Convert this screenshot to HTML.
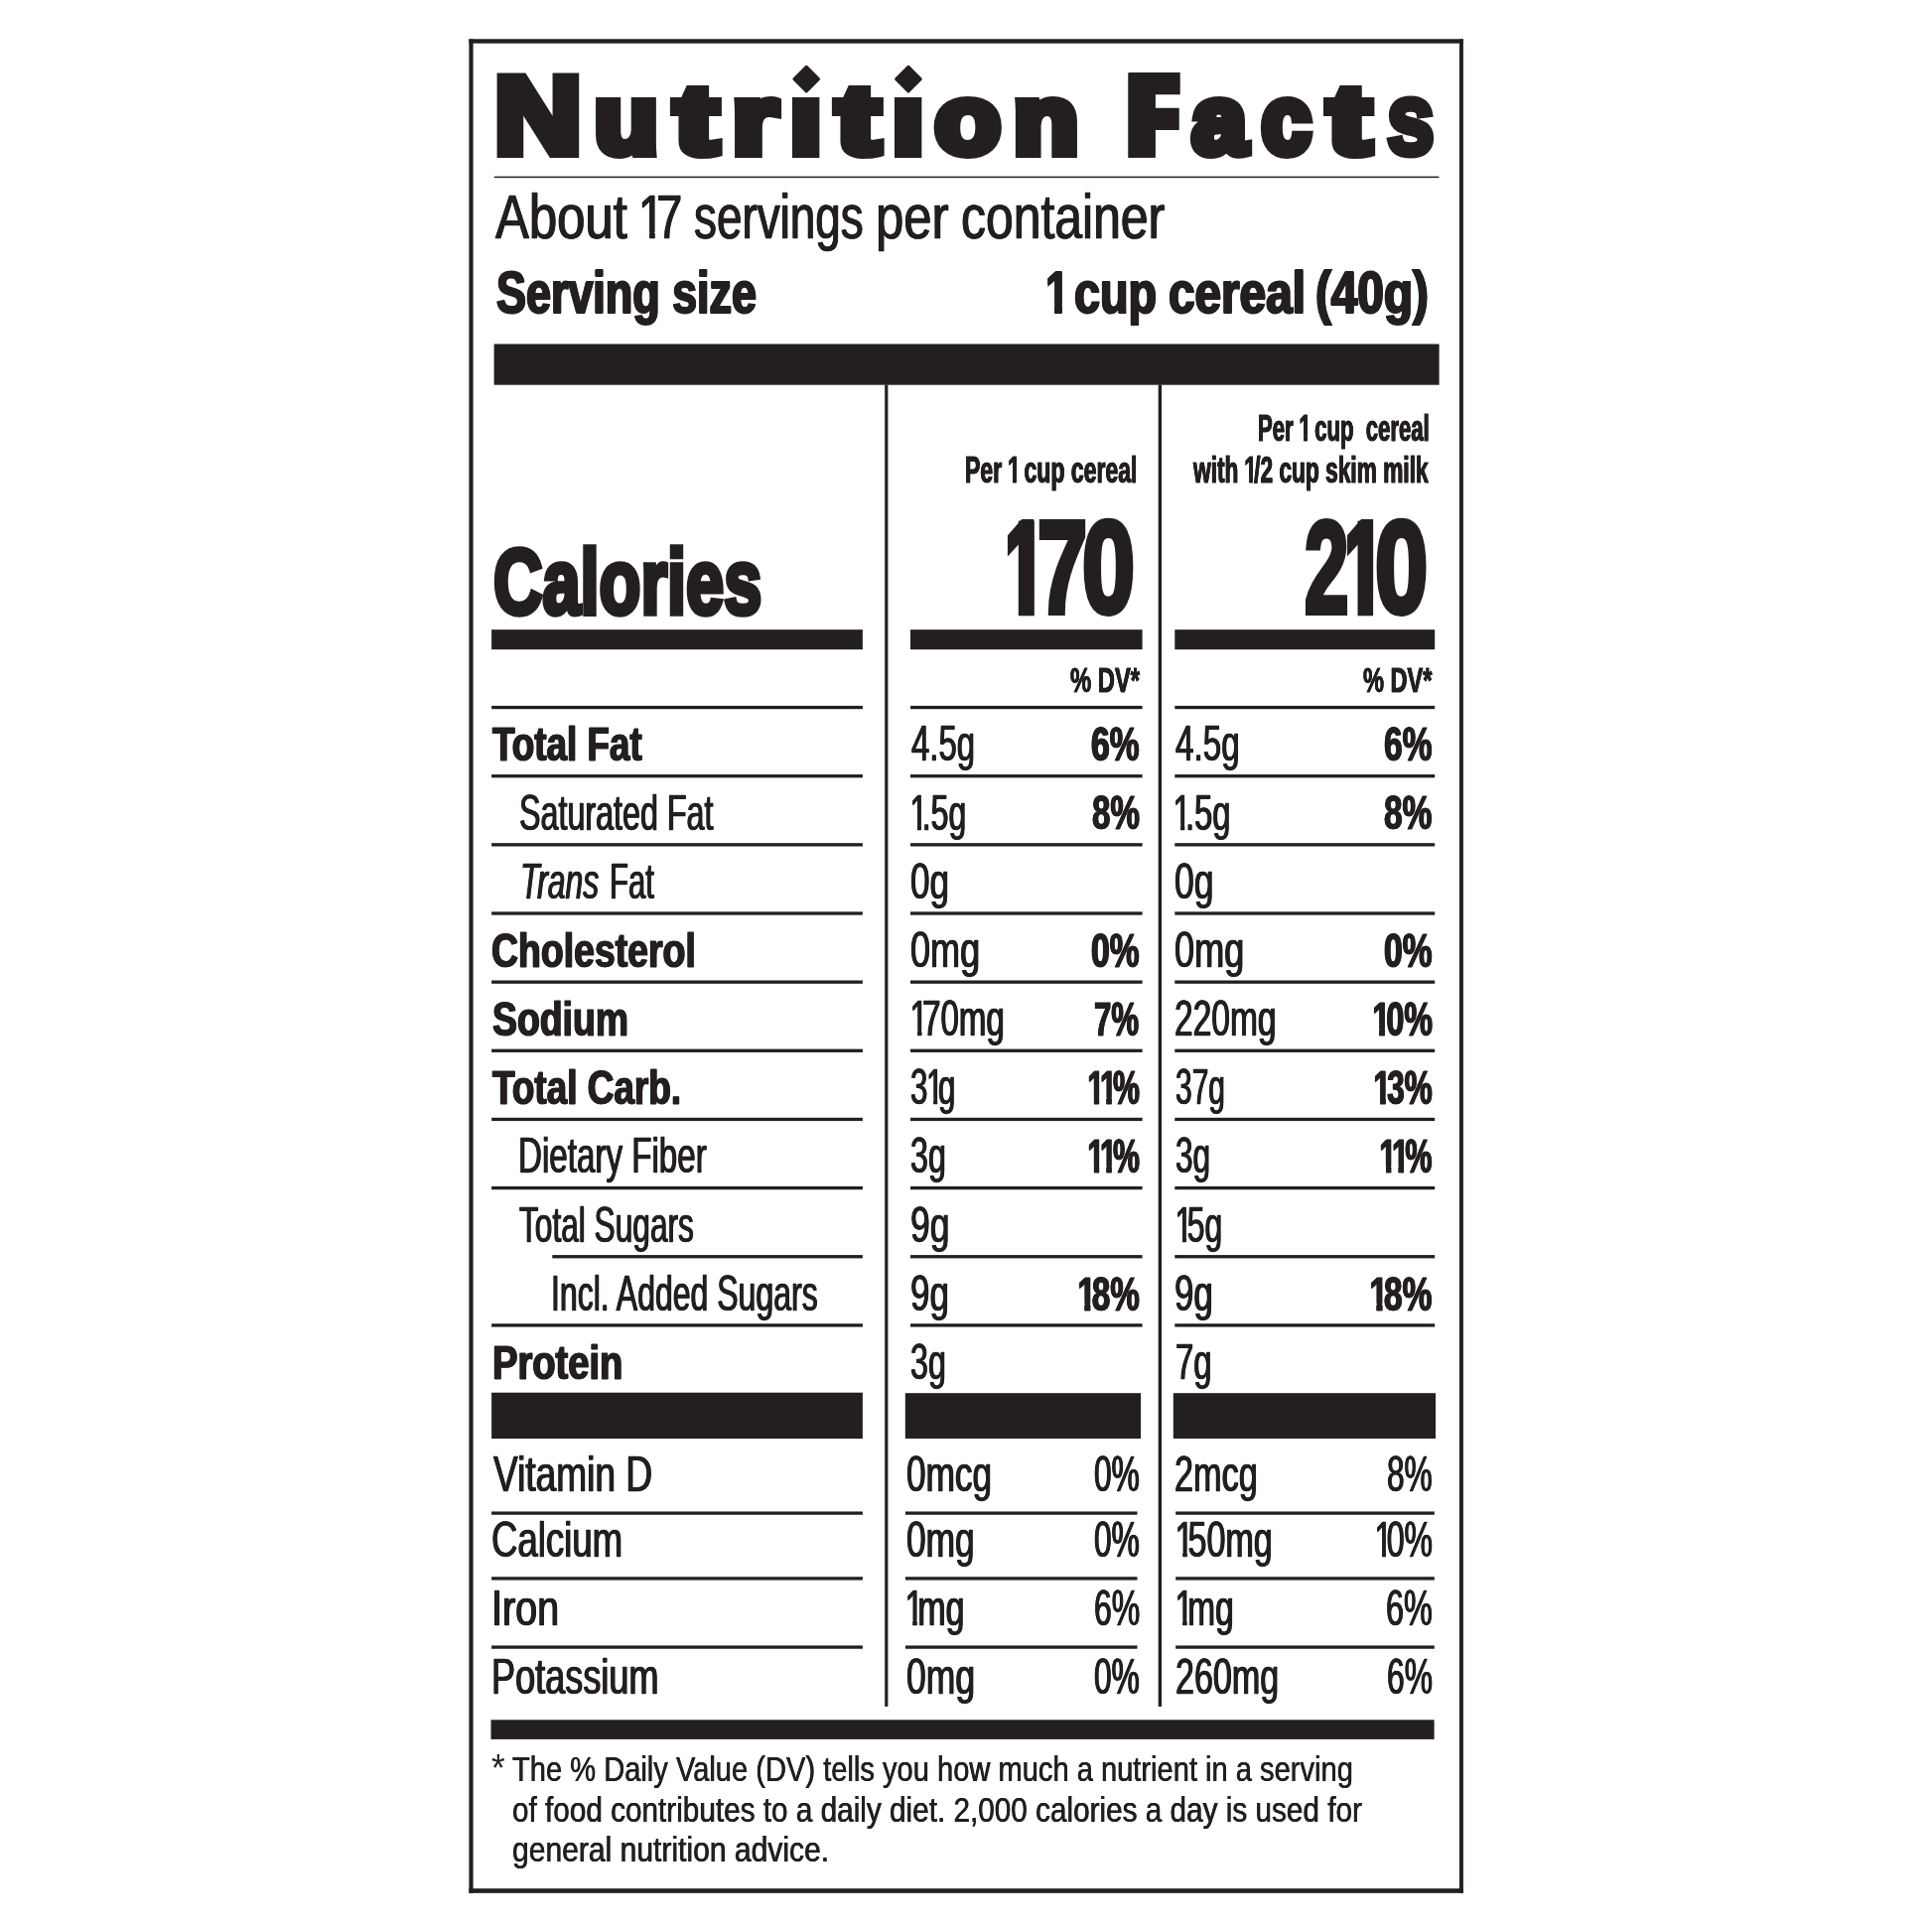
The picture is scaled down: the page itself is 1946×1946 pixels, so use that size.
<!DOCTYPE html>
<html lang="en">
<head>
<meta charset="utf-8">
<title>Nutrition Facts</title>
<style>
html,body{margin:0;padding:0;background:#fff;font-family:"Liberation Sans",sans-serif;}
body{width:1946px;height:1946px;position:relative;overflow:hidden;font-family:"Liberation Sans",sans-serif;color:#231f20;}
.t{position:absolute;display:block;white-space:pre;line-height:normal;transform-origin:0 0;margin:0;padding:0;}
.o{display:inline-block;}
svg{position:absolute;left:0;top:0;}
.layer{position:absolute;left:0;top:0;width:1946px;height:1946px;will-change:transform;}
</style>
</head>
<body>
<svg width="1946" height="1946" viewBox="0 0 1946 1946">
<g fill="#231f20" stroke="none">
<rect x="497.80" y="177.65" width="951.60" height="1.50"/>
<rect x="497.60" y="346.50" width="952.00" height="41.20"/>
<rect x="891.20" y="387.50" width="3.20" height="1331.40"/>
<rect x="1166.70" y="387.50" width="3.40" height="1331.40"/>
<rect x="495.10" y="634.20" width="373.80" height="20.00"/>
<rect x="917.00" y="634.20" width="233.60" height="20.00"/>
<rect x="1183.30" y="634.20" width="261.90" height="20.00"/>
<rect x="495.10" y="710.90" width="373.80" height="3.30"/>
<rect x="917.00" y="710.90" width="233.60" height="3.30"/>
<rect x="1183.30" y="710.90" width="261.90" height="3.30"/>
<rect x="495.10" y="780.05" width="373.80" height="3.30"/>
<rect x="917.00" y="780.05" width="233.60" height="3.30"/>
<rect x="1183.30" y="780.05" width="261.90" height="3.30"/>
<rect x="495.10" y="849.20" width="373.80" height="3.30"/>
<rect x="917.00" y="849.20" width="233.60" height="3.30"/>
<rect x="1183.30" y="849.20" width="261.90" height="3.30"/>
<rect x="495.10" y="918.35" width="373.80" height="3.30"/>
<rect x="917.00" y="918.35" width="233.60" height="3.30"/>
<rect x="1183.30" y="918.35" width="261.90" height="3.30"/>
<rect x="495.10" y="987.50" width="373.80" height="3.30"/>
<rect x="917.00" y="987.50" width="233.60" height="3.30"/>
<rect x="1183.30" y="987.50" width="261.90" height="3.30"/>
<rect x="495.10" y="1056.65" width="373.80" height="3.30"/>
<rect x="917.00" y="1056.65" width="233.60" height="3.30"/>
<rect x="1183.30" y="1056.65" width="261.90" height="3.30"/>
<rect x="495.10" y="1125.80" width="373.80" height="3.30"/>
<rect x="917.00" y="1125.80" width="233.60" height="3.30"/>
<rect x="1183.30" y="1125.80" width="261.90" height="3.30"/>
<rect x="495.10" y="1194.95" width="373.80" height="3.30"/>
<rect x="917.00" y="1194.95" width="233.60" height="3.30"/>
<rect x="1183.30" y="1194.95" width="261.90" height="3.30"/>
<rect x="556.30" y="1264.10" width="312.60" height="3.30"/>
<rect x="917.00" y="1264.10" width="233.60" height="3.30"/>
<rect x="1183.30" y="1264.10" width="261.90" height="3.30"/>
<rect x="495.10" y="1333.25" width="373.80" height="3.30"/>
<rect x="917.00" y="1333.25" width="233.60" height="3.30"/>
<rect x="1183.30" y="1333.25" width="261.90" height="3.30"/>
<rect x="495.10" y="1402.70" width="373.80" height="46.40"/>
<rect x="911.80" y="1403.20" width="237.30" height="45.80"/>
<rect x="1181.80" y="1403.20" width="264.20" height="45.80"/>
<rect x="495.10" y="1522.45" width="373.80" height="3.30"/>
<rect x="911.90" y="1522.45" width="233.60" height="3.30"/>
<rect x="1184.20" y="1522.45" width="260.60" height="3.30"/>
<rect x="495.10" y="1588.25" width="373.80" height="3.30"/>
<rect x="911.90" y="1588.25" width="233.60" height="3.30"/>
<rect x="1184.20" y="1588.25" width="260.60" height="3.30"/>
<rect x="495.10" y="1657.45" width="373.80" height="3.30"/>
<rect x="911.90" y="1657.45" width="233.60" height="3.30"/>
<rect x="1184.20" y="1657.45" width="260.60" height="3.30"/>
<rect x="494.50" y="1732.30" width="950.10" height="19.60"/>
<rect x="1136.3" y="73.6" width="27.6" height="85.3"/>
<rect x="1025.8" y="524.6" width="16.0" height="95.7"/>
<rect x="1367.5" y="524.6" width="15.6" height="95.7"/>
</g>
<polygon points="812.25,67.45 824.45,79.65 812.25,91.85000000000001 800.05,79.65" fill="#231f20" stroke="#231f20" stroke-width="3.2" stroke-linejoin="round"/>
<polygon points="914.95,67.45 927.1500000000001,79.65 914.95,91.85000000000001 902.75,79.65" fill="#231f20" stroke="#231f20" stroke-width="3.2" stroke-linejoin="round"/>
<g fill="#231f20"><rect x="472.4" y="39.4" width="4.2" height="1867.4"/><rect x="1470.0" y="39.4" width="3.9" height="1867.4"/><rect x="472.4" y="39.3" width="1001.5" height="4.4"/><rect x="472.4" y="1902.2" width="1001.5" height="4.6"/></g>
</svg>
<div class="layer">
<span class="t" style="left:498.18px;top:52.90px;font-size:109.59px;font-weight:700;-webkit-text-stroke:10px #231f20;transform:scaleX(1.1107);">N</span>
<span class="t" style="left:598.97px;top:65.90px;font-size:96.00px;font-weight:700;-webkit-text-stroke:10px #231f20;transform:scaleX(1.0868);">u</span>
<span class="t" style="left:679.63px;top:65.90px;font-size:96.00px;font-weight:700;-webkit-text-stroke:10px #231f20;transform:scaleX(1.3325);">t</span>
<span class="t" style="left:737.80px;top:65.90px;font-size:96.00px;font-weight:700;-webkit-text-stroke:10px #231f20;transform:scaleX(1.2000);">r</span>
<span class="t" style="left:796.49px;top:65.90px;font-size:96.00px;font-weight:700;-webkit-text-stroke:10px #231f20;transform:scaleX(1.1803);clip-path:inset(32.08px -99px -99px -99px);">i</span>
<span class="t" style="left:842.63px;top:65.90px;font-size:96.00px;font-weight:700;-webkit-text-stroke:10px #231f20;transform:scaleX(1.3325);">t</span>
<span class="t" style="left:899.19px;top:65.90px;font-size:96.00px;font-weight:700;-webkit-text-stroke:10px #231f20;transform:scaleX(1.1803);clip-path:inset(32.08px -99px -99px -99px);">i</span>
<span class="t" style="left:942.48px;top:65.90px;font-size:96.00px;font-weight:700;-webkit-text-stroke:10px #231f20;transform:scaleX(1.1170);">o</span>
<span class="t" style="left:1021.29px;top:65.90px;font-size:96.00px;font-weight:700;-webkit-text-stroke:10px #231f20;transform:scaleX(1.1088);">n</span>
<span class="t" style="left:1134.72px;top:52.90px;font-size:109.59px;font-weight:700;-webkit-text-stroke:10px #231f20;transform:scaleX(0.7909);">F</span>
<span class="t" style="left:1200.51px;top:65.90px;font-size:96.00px;font-weight:700;-webkit-text-stroke:10px #231f20;transform:scaleX(1.0202);">a</span>
<span class="t" style="left:1271.14px;top:65.90px;font-size:96.00px;font-weight:700;-webkit-text-stroke:10px #231f20;transform:scaleX(0.9212);">c</span>
<span class="t" style="left:1338.27px;top:65.90px;font-size:96.00px;font-weight:700;-webkit-text-stroke:10px #231f20;transform:scaleX(1.3175);">t</span>
<span class="t" style="left:1397.45px;top:62.40px;font-size:101.50px;font-weight:700;-webkit-text-stroke:7px #231f20;transform:scaleX(0.8456);">s</span>
<span class="t" style="left:499.29px;top:182.15px;font-size:62.65px;-webkit-text-stroke:0.7px #231f20;text-shadow:0.7px 0 0 #231f20,-0.7px 0 0 #231f20;transform:scaleX(0.8110);">About</span>
<span class="t" style="left:644.79px;top:182.15px;font-size:62.65px;-webkit-text-stroke:0.7px #231f20;text-shadow:0.7px 0 0 #231f20,-0.7px 0 0 #231f20;transform:scaleX(0.7559);"><span class="o" style="margin:0 -10.96px 0 -2.82px;clip-path:polygon(-40px -40px,400px -40px,400px 51.67px,21.89px 51.67px,21.89px 999px,15.15px 999px,15.15px 51.67px,-40px 51.67px);">1</span>7</span>
<span class="t" style="left:699.17px;top:182.15px;font-size:62.65px;-webkit-text-stroke:0.7px #231f20;text-shadow:0.7px 0 0 #231f20,-0.7px 0 0 #231f20;transform:scaleX(0.7320);">servings</span>
<span class="t" style="left:881.86px;top:182.15px;font-size:62.65px;-webkit-text-stroke:0.7px #231f20;text-shadow:0.7px 0 0 #231f20,-0.7px 0 0 #231f20;transform:scaleX(0.8120);">per</span>
<span class="t" style="left:967.78px;top:182.15px;font-size:62.65px;-webkit-text-stroke:0.7px #231f20;text-shadow:0.7px 0 0 #231f20,-0.7px 0 0 #231f20;transform:scaleX(0.7964);">container</span>
<span class="t" style="left:499.52px;top:259.90px;font-size:59.59px;font-weight:700;-webkit-text-stroke:2px #231f20;text-shadow:1.3px 0 0 #231f20,-1.3px 0 0 #231f20;transform:scaleX(0.7535);">Serving size</span>
<span class="t" style="left:1053.59px;top:259.90px;font-size:59.59px;font-weight:700;-webkit-text-stroke:2px #231f20;text-shadow:1.3px 0 0 #231f20,-1.3px 0 0 #231f20;transform:scaleX(0.7119);"><span class="o" style="margin:0 -7.15px 0 -1.19px;clip-path:polygon(-9px -9px,99px -9px,99px 46.62px,23.29px 46.62px,23.29px 999px,12.71px 999px,12.71px 46.62px,-9px 46.62px);">1</span></span>
<span class="t" style="left:1081.92px;top:259.90px;font-size:59.59px;font-weight:700;-webkit-text-stroke:2px #231f20;text-shadow:1.3px 0 0 #231f20,-1.3px 0 0 #231f20;transform:scaleX(0.7837);">cup</span>
<span class="t" style="left:1177.40px;top:259.90px;font-size:59.59px;font-weight:700;-webkit-text-stroke:2px #231f20;text-shadow:1.3px 0 0 #231f20,-1.3px 0 0 #231f20;transform:scaleX(0.8005);">cereal</span>
<span class="t" style="left:1325.31px;top:259.90px;font-size:59.59px;font-weight:700;-webkit-text-stroke:2px #231f20;text-shadow:1.3px 0 0 #231f20,-1.3px 0 0 #231f20;transform:scaleX(0.7999);">(40g)</span>
<span class="t" style="left:972.32px;top:453.20px;font-size:36.05px;font-weight:700;-webkit-text-stroke:1.0px #231f20;text-shadow:0.5px 0 0 #231f20,-0.5px 0 0 #231f20;transform:scaleX(0.6388);">Per <span class="o" style="margin:0 -4.33px 0 -0.72px;clip-path:polygon(-9px -9px,99px -9px,99px 27.52px,13.76px 27.52px,13.76px 999px,8.01px 999px,8.01px 27.52px,-9px 27.52px);">1</span> cup cereal</span>
<span class="t" style="left:1267.06px;top:410.50px;font-size:36.05px;font-weight:700;-webkit-text-stroke:1.0px #231f20;text-shadow:0.5px 0 0 #231f20,-0.5px 0 0 #231f20;transform:scaleX(0.6137);">Per <span class="o" style="margin:0 -4.33px 0 -0.72px;clip-path:polygon(-9px -9px,99px -9px,99px 27.52px,13.76px 27.52px,13.76px 999px,8.01px 999px,8.01px 27.52px,-9px 27.52px);">1</span> cup  cereal</span>
<span class="t" style="left:1202.44px;top:453.00px;font-size:36.05px;font-weight:700;-webkit-text-stroke:1.0px #231f20;text-shadow:0.5px 0 0 #231f20,-0.5px 0 0 #231f20;transform:scaleX(0.6299);">with <span class="o" style="margin:0 -4.33px 0 -0.72px;clip-path:polygon(-9px -9px,99px -9px,99px 27.52px,13.76px 27.52px,13.76px 999px,8.01px 999px,8.01px 27.52px,-9px 27.52px);">1</span>/2 cup skim milk</span>
<span class="t" style="left:497.46px;top:532.55px;font-size:93.02px;font-weight:700;-webkit-text-stroke:5.5px #231f20;transform:scaleX(0.7364);">Calories</span>
<span class="t" style="left:1013.47px;top:497.30px;font-size:130.82px;font-weight:700;-webkit-text-stroke:6px #231f20;transform:scaleX(0.5783);"><span class="o" style="margin:0 -15.70px 0 -2.62px;clip-path:polygon(-40px -40px,400px -40px,400px 102.35px,51.38px 102.35px,51.38px 999px,27.63px 999px,27.63px 102.35px,-40px 102.35px);">1</span></span>
<span class="t" style="left:1045.19px;top:497.30px;font-size:130.82px;font-weight:700;-webkit-text-stroke:6px #231f20;transform:scaleX(0.6887);">7</span>
<span class="t" style="left:1090.44px;top:497.30px;font-size:130.82px;font-weight:700;-webkit-text-stroke:6px #231f20;transform:scaleX(0.7298);">0</span>
<span class="t" style="left:1313.77px;top:497.30px;font-size:130.82px;font-weight:700;-webkit-text-stroke:6px #231f20;transform:scaleX(0.6104);">2</span>
<span class="t" style="left:1354.98px;top:497.30px;font-size:130.82px;font-weight:700;-webkit-text-stroke:6px #231f20;transform:scaleX(0.5739);"><span class="o" style="margin:0 -15.70px 0 -2.62px;clip-path:polygon(-40px -40px,400px -40px,400px 102.35px,51.38px 102.35px,51.38px 999px,27.63px 999px,27.63px 102.35px,-40px 102.35px);">1</span></span>
<span class="t" style="left:1385.34px;top:497.30px;font-size:130.82px;font-weight:700;-webkit-text-stroke:6px #231f20;transform:scaleX(0.7312);">0</span>
<span class="t" style="left:1078.41px;top:664.50px;font-size:35.61px;font-weight:700;-webkit-text-stroke:0.8px #231f20;text-shadow:0.4px 0 0 #231f20,-0.4px 0 0 #231f20;transform:scaleX(0.6681);">% DV*</span>
<span class="t" style="left:1373.21px;top:664.50px;font-size:35.61px;font-weight:700;-webkit-text-stroke:0.8px #231f20;text-shadow:0.4px 0 0 #231f20,-0.4px 0 0 #231f20;transform:scaleX(0.6624);">% DV*</span>
<span class="t" style="left:496.15px;top:721.10px;font-size:48.40px;font-weight:700;-webkit-text-stroke:1.0px #231f20;text-shadow:0.9px 0 0 #231f20,-0.9px 0 0 #231f20;transform:scaleX(0.7607);">Total Fat</span>
<span class="t" style="left:522.58px;top:789.58px;font-size:49.27px;-webkit-text-stroke:0.4px #231f20;text-shadow:0.8px 0 0 #231f20,-0.8px 0 0 #231f20;transform:scaleX(0.6549);">Saturated Fat</span>
<span class="t" style="left:495.43px;top:928.64px;font-size:48.40px;font-weight:700;-webkit-text-stroke:1.0px #231f20;text-shadow:0.9px 0 0 #231f20,-0.9px 0 0 #231f20;transform:scaleX(0.7730);">Cholesterol</span>
<span class="t" style="left:495.73px;top:997.82px;font-size:48.40px;font-weight:700;-webkit-text-stroke:1.0px #231f20;text-shadow:0.9px 0 0 #231f20,-0.9px 0 0 #231f20;transform:scaleX(0.7727);">Sodium</span>
<span class="t" style="left:496.15px;top:1067.00px;font-size:48.40px;font-weight:700;-webkit-text-stroke:1.0px #231f20;text-shadow:0.9px 0 0 #231f20,-0.9px 0 0 #231f20;transform:scaleX(0.7630);">Total Carb.</span>
<span class="t" style="left:522.18px;top:1135.48px;font-size:49.27px;-webkit-text-stroke:0.4px #231f20;text-shadow:0.8px 0 0 #231f20,-0.8px 0 0 #231f20;transform:scaleX(0.6728);">Dietary Fiber</span>
<span class="t" style="left:522.70px;top:1204.66px;font-size:49.27px;-webkit-text-stroke:0.4px #231f20;text-shadow:0.8px 0 0 #231f20,-0.8px 0 0 #231f20;transform:scaleX(0.6421);">Total Sugars</span>
<span class="t" style="left:555.43px;top:1273.84px;font-size:49.27px;-webkit-text-stroke:0.4px #231f20;text-shadow:0.8px 0 0 #231f20,-0.8px 0 0 #231f20;transform:scaleX(0.6496);">Incl. Added Sugars</span>
<span class="t" style="left:495.62px;top:1343.72px;font-size:48.40px;font-weight:700;-webkit-text-stroke:1.0px #231f20;text-shadow:0.9px 0 0 #231f20,-0.9px 0 0 #231f20;transform:scaleX(0.7877);">Protein</span>
<span class="t" style="left:524.43px;top:858.76px;font-size:49.27px;font-style:italic;-webkit-text-stroke:0.4px #231f20;text-shadow:0.8px 0 0 #231f20,-0.8px 0 0 #231f20;transform:scaleX(0.6480);">Trans</span>
<span class="t" style="left:614.01px;top:858.76px;font-size:49.27px;-webkit-text-stroke:0.4px #231f20;text-shadow:0.8px 0 0 #231f20,-0.8px 0 0 #231f20;transform:scaleX(0.6304);">Fat</span>
<span class="t" style="left:917.60px;top:720.40px;font-size:49.27px;-webkit-text-stroke:0.4px #231f20;text-shadow:0.8px 0 0 #231f20,-0.8px 0 0 #231f20;transform:scaleX(0.6679);">4.5g</span>
<span class="t" style="left:917.88px;top:789.58px;font-size:49.27px;-webkit-text-stroke:0.4px #231f20;text-shadow:0.8px 0 0 #231f20,-0.8px 0 0 #231f20;transform:scaleX(0.6485);"><span class="o" style="margin:0 -8.62px 0 -2.22px;clip-path:polygon(-9px -9px,99px -9px,99px 40.82px,17.45px 40.82px,17.45px 999px,11.69px 999px,11.69px 40.82px,-9px 40.82px);">1</span>.5g</span>
<span class="t" style="left:917.19px;top:858.76px;font-size:49.27px;-webkit-text-stroke:0.4px #231f20;text-shadow:0.8px 0 0 #231f20,-0.8px 0 0 #231f20;transform:scaleX(0.7116);">0g</span>
<span class="t" style="left:917.17px;top:927.94px;font-size:49.27px;-webkit-text-stroke:0.4px #231f20;text-shadow:0.8px 0 0 #231f20,-0.8px 0 0 #231f20;transform:scaleX(0.7313);">0mg</span>
<span class="t" style="left:917.94px;top:997.12px;font-size:49.27px;-webkit-text-stroke:0.4px #231f20;text-shadow:0.8px 0 0 #231f20,-0.8px 0 0 #231f20;transform:scaleX(0.6706);"><span class="o" style="margin:0 -8.62px 0 -2.22px;clip-path:polygon(-9px -9px,99px -9px,99px 40.82px,17.45px 40.82px,17.45px 999px,11.69px 999px,11.69px 40.82px,-9px 40.82px);">1</span>70mg</span>
<span class="t" style="left:917.26px;top:1066.30px;font-size:49.27px;-webkit-text-stroke:0.4px #231f20;text-shadow:0.8px 0 0 #231f20,-0.8px 0 0 #231f20;transform:scaleX(0.6353);">3<span class="o" style="margin:0 -8.62px 0 -2.22px;clip-path:polygon(-9px -9px,99px -9px,99px 40.82px,17.45px 40.82px,17.45px 999px,11.69px 999px,11.69px 40.82px,-9px 40.82px);">1</span>g</span>
<span class="t" style="left:917.25px;top:1135.48px;font-size:49.27px;-webkit-text-stroke:0.4px #231f20;text-shadow:0.8px 0 0 #231f20,-0.8px 0 0 #231f20;transform:scaleX(0.6533);">3g</span>
<span class="t" style="left:916.75px;top:1204.66px;font-size:49.27px;-webkit-text-stroke:0.4px #231f20;text-shadow:0.8px 0 0 #231f20,-0.8px 0 0 #231f20;transform:scaleX(0.7200);">9g</span>
<span class="t" style="left:916.77px;top:1273.84px;font-size:49.27px;-webkit-text-stroke:0.4px #231f20;text-shadow:0.8px 0 0 #231f20,-0.8px 0 0 #231f20;transform:scaleX(0.7101);">9g</span>
<span class="t" style="left:917.25px;top:1343.02px;font-size:49.27px;-webkit-text-stroke:0.4px #231f20;text-shadow:0.8px 0 0 #231f20,-0.8px 0 0 #231f20;transform:scaleX(0.6533);">3g</span>
<span class="t" style="left:1098.96px;top:721.10px;font-size:48.40px;font-weight:700;-webkit-text-stroke:1.0px #231f20;text-shadow:0.9px 0 0 #231f20,-0.9px 0 0 #231f20;transform:scaleX(0.6949);">6%</span>
<span class="t" style="left:1099.61px;top:790.28px;font-size:48.40px;font-weight:700;-webkit-text-stroke:1.0px #231f20;text-shadow:0.9px 0 0 #231f20,-0.9px 0 0 #231f20;transform:scaleX(0.6856);">8%</span>
<span class="t" style="left:1098.86px;top:928.64px;font-size:48.40px;font-weight:700;-webkit-text-stroke:1.0px #231f20;text-shadow:0.9px 0 0 #231f20,-0.9px 0 0 #231f20;transform:scaleX(0.6963);">0%</span>
<span class="t" style="left:1102.46px;top:997.82px;font-size:48.40px;font-weight:700;-webkit-text-stroke:1.0px #231f20;text-shadow:0.9px 0 0 #231f20,-0.9px 0 0 #231f20;transform:scaleX(0.6449);">7%</span>
<span class="t" style="left:1095.88px;top:1067.00px;font-size:48.40px;font-weight:700;-webkit-text-stroke:1.0px #231f20;text-shadow:0.9px 0 0 #231f20,-0.9px 0 0 #231f20;transform:scaleX(0.6232);"><span class="o" style="margin:0 -5.81px 0 -0.97px;clip-path:polygon(-9px -9px,99px -9px,99px 38.26px,18.74px 38.26px,18.74px 999px,10.50px 999px,10.50px 38.26px,-9px 38.26px);">1</span><span class="o" style="margin:0 -5.81px 0 -0.97px;clip-path:polygon(-9px -9px,99px -9px,99px 38.26px,18.74px 38.26px,18.74px 999px,10.50px 999px,10.50px 38.26px,-9px 38.26px);">1</span>%</span>
<span class="t" style="left:1095.88px;top:1136.18px;font-size:48.40px;font-weight:700;-webkit-text-stroke:1.0px #231f20;text-shadow:0.9px 0 0 #231f20,-0.9px 0 0 #231f20;transform:scaleX(0.6232);"><span class="o" style="margin:0 -5.81px 0 -0.97px;clip-path:polygon(-9px -9px,99px -9px,99px 38.26px,18.74px 38.26px,18.74px 999px,10.50px 999px,10.50px 38.26px,-9px 38.26px);">1</span><span class="o" style="margin:0 -5.81px 0 -0.97px;clip-path:polygon(-9px -9px,99px -9px,99px 38.26px,18.74px 38.26px,18.74px 999px,10.50px 999px,10.50px 38.26px,-9px 38.26px);">1</span>%</span>
<span class="t" style="left:1085.91px;top:1274.54px;font-size:48.40px;font-weight:700;-webkit-text-stroke:1.0px #231f20;text-shadow:0.9px 0 0 #231f20,-0.9px 0 0 #231f20;transform:scaleX(0.6854);"><span class="o" style="margin:0 -5.81px 0 -0.97px;clip-path:polygon(-9px -9px,99px -9px,99px 38.26px,18.74px 38.26px,18.74px 999px,10.50px 999px,10.50px 38.26px,-9px 38.26px);">1</span>8%</span>
<span class="t" style="left:1183.60px;top:720.40px;font-size:49.27px;-webkit-text-stroke:0.4px #231f20;text-shadow:0.8px 0 0 #231f20,-0.8px 0 0 #231f20;transform:scaleX(0.6743);">4.5g</span>
<span class="t" style="left:1183.05px;top:789.58px;font-size:49.27px;-webkit-text-stroke:0.4px #231f20;text-shadow:0.8px 0 0 #231f20,-0.8px 0 0 #231f20;transform:scaleX(0.6645);"><span class="o" style="margin:0 -8.62px 0 -2.22px;clip-path:polygon(-9px -9px,99px -9px,99px 40.82px,17.45px 40.82px,17.45px 999px,11.69px 999px,11.69px 40.82px,-9px 40.82px);">1</span>.5g</span>
<span class="t" style="left:1183.28px;top:858.76px;font-size:49.27px;-webkit-text-stroke:0.4px #231f20;text-shadow:0.8px 0 0 #231f20,-0.8px 0 0 #231f20;transform:scaleX(0.7213);">0g</span>
<span class="t" style="left:1183.27px;top:927.94px;font-size:49.27px;-webkit-text-stroke:0.4px #231f20;text-shadow:0.8px 0 0 #231f20,-0.8px 0 0 #231f20;transform:scaleX(0.7335);">0mg</span>
<span class="t" style="left:1183.02px;top:997.12px;font-size:49.27px;-webkit-text-stroke:0.4px #231f20;text-shadow:0.8px 0 0 #231f20,-0.8px 0 0 #231f20;transform:scaleX(0.6808);">220mg</span>
<span class="t" style="left:1183.59px;top:1066.30px;font-size:49.27px;-webkit-text-stroke:0.4px #231f20;text-shadow:0.8px 0 0 #231f20,-0.8px 0 0 #231f20;transform:scaleX(0.6076);">37g</span>
<span class="t" style="left:1183.56px;top:1135.48px;font-size:49.27px;-webkit-text-stroke:0.4px #231f20;text-shadow:0.8px 0 0 #231f20,-0.8px 0 0 #231f20;transform:scaleX(0.6416);">3g</span>
<span class="t" style="left:1184.58px;top:1204.66px;font-size:49.27px;-webkit-text-stroke:0.4px #231f20;text-shadow:0.8px 0 0 #231f20,-0.8px 0 0 #231f20;transform:scaleX(0.6467);"><span class="o" style="margin:0 -8.62px 0 -2.22px;clip-path:polygon(-9px -9px,99px -9px,99px 40.82px,17.45px 40.82px,17.45px 999px,11.69px 999px,11.69px 40.82px,-9px 40.82px);">1</span>5g</span>
<span class="t" style="left:1182.87px;top:1273.84px;font-size:49.27px;-webkit-text-stroke:0.4px #231f20;text-shadow:0.8px 0 0 #231f20,-0.8px 0 0 #231f20;transform:scaleX(0.7082);">9g</span>
<span class="t" style="left:1183.61px;top:1343.02px;font-size:49.27px;-webkit-text-stroke:0.4px #231f20;text-shadow:0.8px 0 0 #231f20,-0.8px 0 0 #231f20;transform:scaleX(0.6692);">7g</span>
<span class="t" style="left:1393.86px;top:721.10px;font-size:48.40px;font-weight:700;-webkit-text-stroke:1.0px #231f20;text-shadow:0.9px 0 0 #231f20,-0.9px 0 0 #231f20;transform:scaleX(0.6935);">6%</span>
<span class="t" style="left:1394.01px;top:790.28px;font-size:48.40px;font-weight:700;-webkit-text-stroke:1.0px #231f20;text-shadow:0.9px 0 0 #231f20,-0.9px 0 0 #231f20;transform:scaleX(0.6913);">8%</span>
<span class="t" style="left:1393.76px;top:928.64px;font-size:48.40px;font-weight:700;-webkit-text-stroke:1.0px #231f20;text-shadow:0.9px 0 0 #231f20,-0.9px 0 0 #231f20;transform:scaleX(0.6949);">0%</span>
<span class="t" style="left:1382.53px;top:997.82px;font-size:48.40px;font-weight:700;-webkit-text-stroke:1.0px #231f20;text-shadow:0.9px 0 0 #231f20,-0.9px 0 0 #231f20;transform:scaleX(0.6652);"><span class="o" style="margin:0 -5.81px 0 -0.97px;clip-path:polygon(-9px -9px,99px -9px,99px 38.26px,18.74px 38.26px,18.74px 999px,10.50px 999px,10.50px 38.26px,-9px 38.26px);">1</span>0%</span>
<span class="t" style="left:1383.75px;top:1067.00px;font-size:48.40px;font-weight:700;-webkit-text-stroke:1.0px #231f20;text-shadow:0.9px 0 0 #231f20,-0.9px 0 0 #231f20;transform:scaleX(0.6517);"><span class="o" style="margin:0 -5.81px 0 -0.97px;clip-path:polygon(-9px -9px,99px -9px,99px 38.26px,18.74px 38.26px,18.74px 999px,10.50px 999px,10.50px 38.26px,-9px 38.26px);">1</span>3%</span>
<span class="t" style="left:1390.17px;top:1136.18px;font-size:48.40px;font-weight:700;-webkit-text-stroke:1.0px #231f20;text-shadow:0.9px 0 0 #231f20,-0.9px 0 0 #231f20;transform:scaleX(0.6293);"><span class="o" style="margin:0 -5.81px 0 -0.97px;clip-path:polygon(-9px -9px,99px -9px,99px 38.26px,18.74px 38.26px,18.74px 999px,10.50px 999px,10.50px 38.26px,-9px 38.26px);">1</span><span class="o" style="margin:0 -5.81px 0 -0.97px;clip-path:polygon(-9px -9px,99px -9px,99px 38.26px,18.74px 38.26px,18.74px 999px,10.50px 999px,10.50px 38.26px,-9px 38.26px);">1</span>%</span>
<span class="t" style="left:1380.11px;top:1274.54px;font-size:48.40px;font-weight:700;-webkit-text-stroke:1.0px #231f20;text-shadow:0.9px 0 0 #231f20,-0.9px 0 0 #231f20;transform:scaleX(0.6921);"><span class="o" style="margin:0 -5.81px 0 -0.97px;clip-path:polygon(-9px -9px,99px -9px,99px 38.26px,18.74px 38.26px,18.74px 999px,10.50px 999px,10.50px 38.26px,-9px 38.26px);">1</span>8%</span>
<span class="t" style="left:497.45px;top:1456.90px;font-size:49.13px;-webkit-text-stroke:0.4px #231f20;text-shadow:0.8px 0 0 #231f20,-0.8px 0 0 #231f20;transform:scaleX(0.7552);">Vitamin D</span>
<span class="t" style="left:912.68px;top:1456.90px;font-size:49.13px;-webkit-text-stroke:0.4px #231f20;text-shadow:0.8px 0 0 #231f20,-0.8px 0 0 #231f20;transform:scaleX(0.7162);">0mcg</span>
<span class="t" style="left:1102.46px;top:1456.90px;font-size:49.13px;-webkit-text-stroke:0.4px #231f20;text-shadow:0.8px 0 0 #231f20,-0.8px 0 0 #231f20;transform:scaleX(0.6449);">0%</span>
<span class="t" style="left:1183.00px;top:1456.90px;font-size:49.13px;-webkit-text-stroke:0.4px #231f20;text-shadow:0.8px 0 0 #231f20,-0.8px 0 0 #231f20;transform:scaleX(0.6974);">2mcg</span>
<span class="t" style="left:1397.36px;top:1456.90px;font-size:49.13px;-webkit-text-stroke:0.4px #231f20;text-shadow:0.8px 0 0 #231f20,-0.8px 0 0 #231f20;transform:scaleX(0.6435);">8%</span>
<span class="t" style="left:495.27px;top:1523.20px;font-size:49.13px;-webkit-text-stroke:0.4px #231f20;text-shadow:0.8px 0 0 #231f20,-0.8px 0 0 #231f20;transform:scaleX(0.7447);">Calcium</span>
<span class="t" style="left:912.68px;top:1523.20px;font-size:49.13px;-webkit-text-stroke:0.4px #231f20;text-shadow:0.8px 0 0 #231f20,-0.8px 0 0 #231f20;transform:scaleX(0.7175);">0mg</span>
<span class="t" style="left:1102.46px;top:1523.20px;font-size:49.13px;-webkit-text-stroke:0.4px #231f20;text-shadow:0.8px 0 0 #231f20,-0.8px 0 0 #231f20;transform:scaleX(0.6449);">0%</span>
<span class="t" style="left:1184.51px;top:1523.20px;font-size:49.13px;-webkit-text-stroke:0.4px #231f20;text-shadow:0.8px 0 0 #231f20,-0.8px 0 0 #231f20;transform:scaleX(0.6942);"><span class="o" style="margin:0 -8.60px 0 -2.21px;clip-path:polygon(-9px -9px,99px -9px,99px 39.83px,17.40px 39.83px,17.40px 999px,11.65px 999px,11.65px 39.83px,-9px 39.83px);">1</span>50mg</span>
<span class="t" style="left:1385.68px;top:1523.20px;font-size:49.13px;-webkit-text-stroke:0.4px #231f20;text-shadow:0.8px 0 0 #231f20,-0.8px 0 0 #231f20;transform:scaleX(0.6519);"><span class="o" style="margin:0 -8.60px 0 -2.21px;clip-path:polygon(-9px -9px,99px -9px,99px 39.83px,17.40px 39.83px,17.40px 999px,11.65px 999px,11.65px 39.83px,-9px 39.83px);">1</span>0%</span>
<span class="t" style="left:494.66px;top:1592.10px;font-size:49.13px;-webkit-text-stroke:0.4px #231f20;text-shadow:0.8px 0 0 #231f20,-0.8px 0 0 #231f20;transform:scaleX(0.8053);">Iron</span>
<span class="t" style="left:912.82px;top:1592.10px;font-size:49.13px;-webkit-text-stroke:0.4px #231f20;text-shadow:0.8px 0 0 #231f20,-0.8px 0 0 #231f20;transform:scaleX(0.6893);"><span class="o" style="margin:0 -8.60px 0 -2.21px;clip-path:polygon(-9px -9px,99px -9px,99px 39.83px,17.40px 39.83px,17.40px 999px,11.65px 999px,11.65px 39.83px,-9px 39.83px);">1</span>mg</span>
<span class="t" style="left:1101.94px;top:1592.10px;font-size:49.13px;-webkit-text-stroke:0.4px #231f20;text-shadow:0.8px 0 0 #231f20,-0.8px 0 0 #231f20;transform:scaleX(0.6522);">6%</span>
<span class="t" style="left:1184.53px;top:1592.10px;font-size:49.13px;-webkit-text-stroke:0.4px #231f20;text-shadow:0.8px 0 0 #231f20,-0.8px 0 0 #231f20;transform:scaleX(0.6806);"><span class="o" style="margin:0 -8.60px 0 -2.21px;clip-path:polygon(-9px -9px,99px -9px,99px 39.83px,17.40px 39.83px,17.40px 999px,11.65px 999px,11.65px 39.83px,-9px 39.83px);">1</span>mg</span>
<span class="t" style="left:1396.23px;top:1592.10px;font-size:49.13px;-webkit-text-stroke:0.4px #231f20;text-shadow:0.8px 0 0 #231f20,-0.8px 0 0 #231f20;transform:scaleX(0.6596);">6%</span>
<span class="t" style="left:495.00px;top:1660.90px;font-size:49.13px;-webkit-text-stroke:0.4px #231f20;text-shadow:0.8px 0 0 #231f20,-0.8px 0 0 #231f20;transform:scaleX(0.7348);">Potassium</span>
<span class="t" style="left:912.68px;top:1660.90px;font-size:49.13px;-webkit-text-stroke:0.4px #231f20;text-shadow:0.8px 0 0 #231f20,-0.8px 0 0 #231f20;transform:scaleX(0.7229);">0mg</span>
<span class="t" style="left:1102.46px;top:1660.90px;font-size:49.13px;-webkit-text-stroke:0.4px #231f20;text-shadow:0.8px 0 0 #231f20,-0.8px 0 0 #231f20;transform:scaleX(0.6449);">0%</span>
<span class="t" style="left:1183.61px;top:1660.90px;font-size:49.13px;-webkit-text-stroke:0.4px #231f20;text-shadow:0.8px 0 0 #231f20,-0.8px 0 0 #231f20;transform:scaleX(0.6938);">260mg</span>
<span class="t" style="left:1397.05px;top:1660.90px;font-size:49.13px;-webkit-text-stroke:0.4px #231f20;text-shadow:0.8px 0 0 #231f20,-0.8px 0 0 #231f20;transform:scaleX(0.6478);">6%</span>
<span class="t" style="left:495.24px;top:1760.00px;font-size:38.00px;transform:scaleX(0.9229);">*</span>
<span class="t" style="left:516.20px;top:1762.10px;font-size:35.76px;text-shadow:0.35px 0 0 #231f20,-0.35px 0 0 #231f20;transform:scaleX(0.8139);">The % Daily Value (DV) tells you how much a nutrient in a serving</span>
<span class="t" style="left:516.30px;top:1802.70px;font-size:35.76px;text-shadow:0.35px 0 0 #231f20,-0.35px 0 0 #231f20;transform:scaleX(0.8314);">of food contributes to a daily diet. 2,000 calories a day is used for</span>
<span class="t" style="left:516.29px;top:1843.20px;font-size:35.76px;text-shadow:0.35px 0 0 #231f20,-0.35px 0 0 #231f20;transform:scaleX(0.8408);">general nutrition advice.</span>
</div>
</body>
</html>
